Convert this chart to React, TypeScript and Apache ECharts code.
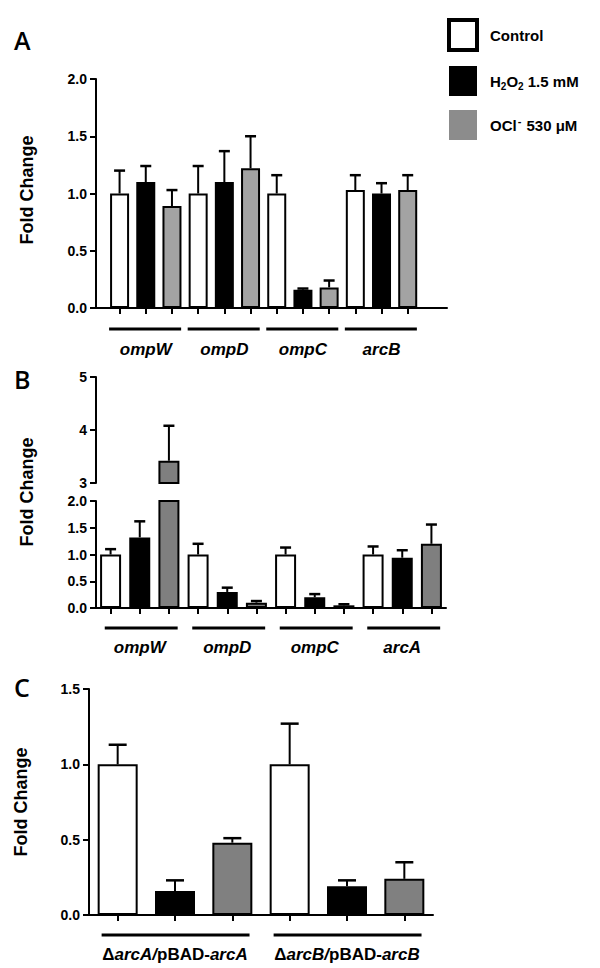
import React, { useEffect, useRef } from "react";
import * as echarts from "echarts";

// ---------- data ----------
const seriesNames = ["Control", "H2O2", "OCl"];

// Panel A
const genesA = ["ompW", "ompD", "ompC", "arcB"];
const controlA = [1.0, 1.0, 1.0, 1.03];
const controlErrA = [0.2, 0.24, 0.16, 0.13];
const h2o2A = [1.1, 1.1, 0.16, 1.0];
const h2o2ErrA = [0.14, 0.27, 0.01, 0.09];
const oclA = [0.89, 1.22, 0.18, 1.03];
const oclErrA = [0.14, 0.28, 0.06, 0.13];

// Panel B
const genesB = ["ompW", "ompD", "ompC", "arcA"];
const controlB = [1.0, 1.0, 1.0, 1.0];
const controlErrB = [0.1, 0.2, 0.13, 0.15];
const h2o2B = [1.32, 0.3, 0.2, 0.94];
const h2o2ErrB = [0.3, 0.08, 0.06, 0.14];
const oclB = [3.42, 0.1, 0.05, 1.2];
const oclErrB = [0.66, 0.03, 0.02, 0.36];

// Panel C
const strainsC = ["ΔarcA/pBAD-arcA", "ΔarcB/pBAD-arcB"];
const controlC = [1.0, 1.0];
const controlErrC = [0.13, 0.27];
const h2o2C = [0.16, 0.19];
const h2o2ErrC = [0.07, 0.04];
const oclC = [0.48, 0.24];
const oclErrC = [0.03, 0.11];

// ticks
const yTicksA = [0, 0.5, 1.0, 1.5, 2.0];
const yTicksBUpper = [3, 4, 5];
const yTicksBLower = [0, 0.5, 1.0, 1.5, 2.0];
const yTicksC = [0, 0.5, 1.0, 1.5];

const FONT = "'Liberation Sans', Arial, sans-serif";

function pos(g: number, k: number) {
  return g * 3 + k + 1;
}

function barData(vals: number[], k: number) {
  return vals.map((v, g) => [pos(g, k), v]);
}

function errData(groups: number[][], errs: number[][]) {
  const out: number[][] = [];
  groups.forEach((vals, k) => {
    vals.forEach((v, g) => out.push([pos(g, k), v, errs[k][g]]));
  });
  return out;
}

function makeErrRender(capHalf: number) {
  return (params: any, api: any) => {
    const x = api.value(0);
    const m = api.value(1);
    const e = api.value(2);
    const p0 = api.coord([x, m]);
    const p1 = api.coord([x, m + e]);
    const cs = params.coordSys;
    if (p0[1] < cs.y - 1 || p1[1] > cs.y + cs.height + 1) return null;
    return {
      type: "group",
      children: [
        {
          type: "line",
          shape: { x1: p0[0], y1: p0[1], x2: p1[0], y2: p1[1] },
          style: { stroke: "#000", lineWidth: 2 },
        },
        {
          type: "line",
          shape: { x1: p1[0] - capHalf, y1: p1[1], x2: p1[0] + capHalf, y2: p1[1] },
          style: { stroke: "#000", lineWidth: 2.5 },
        },
      ],
    };
  };
}

function makeUnderlineRender(offset: number) {
  return (params: any, api: any) => {
    const a = api.coord([api.value(0), api.value(2)]);
    const b = api.coord([api.value(1), api.value(2)]);
    return {
      type: "line",
      shape: { x1: a[0], y1: a[1] + offset, x2: b[0], y2: b[1] + offset },
      style: { stroke: "#000", lineWidth: 3 },
    };
  };
}

function underlineData(n: number, padL: number, padR: number, yMin: number) {
  const out: number[][] = [];
  for (let g = 0; g < n; g++) out.push([pos(g, 0) - padL, pos(g, 2) + padR, yMin]);
  return out;
}

const axisLineStyle = { show: true, lineStyle: { color: "#000", width: 2 } };
const yLabel = {
  color: "#000",
  fontWeight: "bold" as const,
  fontSize: 14,
  fontFamily: FONT,
  margin: 9,
};

function yAxisCfg(grid: number, min: number, max: number, interval: number, dec: number) {
  return {
    type: "value",
    gridIndex: grid,
    min,
    max,
    interval,
    axisLine: { ...axisLineStyle, onZero: false },
    axisTick: { show: true, length: 6, lineStyle: { color: "#000", width: 2 } },
    axisLabel: { ...yLabel, formatter: (v: number) => v.toFixed(dec) },
    splitLine: { show: false },
  };
}

const italicRich = {
  i: { fontStyle: "italic", fontWeight: "bold", fontSize: 17, fontFamily: FONT, color: "#000" },
  n: { fontStyle: "normal", fontWeight: "bold", fontSize: 17, fontFamily: FONT, color: "#000" },
};

function xAxisCfg(
  grid: number,
  min: number,
  max: number,
  n: number,
  labels: string[],
  margin: number,
  formatter: (s: string) => string
) {
  const tickVals: number[] = [];
  for (let i = 1; i <= n * 3; i++) tickVals.push(i);
  const labelVals = labels.map((_, g) => pos(g, 1));
  return {
    type: "value",
    gridIndex: grid,
    min,
    max,
    axisLine: { ...axisLineStyle, onZero: false },
    axisTick: {
      show: true,
      customValues: tickVals,
      length: 6,
      lineStyle: { color: "#000", width: 2 },
    },
    axisLabel: {
      show: true,
      customValues: labelVals,
      margin,
      formatter: (v: number) => formatter(labels[Math.round((v - 2) / 3)] || ""),
      rich: italicRich,
    },
    splitLine: { show: false },
  };
}

const geneFmt = (s: string) => `{i|${s}}`;
const strainFmt = (s: string) => {
  const m = s.match(/^Δ(\w+)\/pBAD-(\w+)$/);
  if (!m) return s;
  return `{n|Δ}{i|${m[1]}/}{n|pBAD-}{i|${m[2]}}`;
};

function bars(
  name: string,
  xi: number,
  data: number[][],
  color: string,
  width: number
) {
  return {
    type: "bar",
    name,
    xAxisIndex: xi,
    yAxisIndex: xi,
    data,
    barWidth: width,
    barGap: "-100%",
    clip: true,
    z: 2,
    itemStyle: { color, borderColor: "#000", borderWidth: 2 },
  };
}

export default function App() {
  const ref = useRef<HTMLDivElement>(null);
  useEffect(() => {
    if (!ref.current) return;
    const chart = echarts.init(ref.current, null, { renderer: "svg" });

    const grayA = "#a3a3a3";
    const grayB = "#7f7f7f";
    const grayC = "#808080";

    const option: any = {
      animation: false,
      backgroundColor: "#fff",
      grid: [
        { left: 96, top: 79, width: 351, height: 229 },
        { left: 96, top: 377, width: 350, height: 106 },
        { left: 96, top: 501, width: 350, height: 107 },
        { left: 89, top: 689, width: 344, height: 226 },
      ],
      xAxis: [
        xAxisCfg(0, 0.1, 13.5, genesA.length, genesA, 33, geneFmt),
        { type: "value", gridIndex: 1, min: 0.5, max: 12.5, show: false },
        xAxisCfg(2, 0.5, 12.5, genesB.length, genesB, 31, geneFmt),
        xAxisCfg(3, 0.5, 6.5, strainsC.length, strainsC, 31, strainFmt),
      ],
      yAxis: [
        yAxisCfg(0, yTicksA[0], yTicksA[yTicksA.length - 1], 0.5, 1),
        yAxisCfg(1, yTicksBUpper[0], yTicksBUpper[yTicksBUpper.length - 1], 1, 0),
        yAxisCfg(2, yTicksBLower[0], yTicksBLower[yTicksBLower.length - 1], 0.5, 1),
        yAxisCfg(3, yTicksC[0], yTicksC[yTicksC.length - 1], 0.5, 1),
      ],
      legend: {
        orient: "vertical",
        left: 442,
        top: 13,
        itemWidth: 28,
        itemHeight: 30,
        itemGap: 14,
        selectedMode: false,
        icon: "rect",
        data: [
          { name: "Control", itemStyle: { color: "#fff", borderColor: "#000", borderWidth: 4 } },
          { name: "H2O2", itemStyle: { color: "#000", borderColor: "#000", borderWidth: 0 } },
          { name: "OCl", itemStyle: { color: "#8c8c8c", borderColor: "#8c8c8c", borderWidth: 0 } },
        ],
        formatter: (name: string) => {
          if (name === "H2O2") return "{b|H}{sub|2}{b|O}{sub|2}{b| 1.5 mM}";
          if (name === "OCl") return "{b|OCl}{sup|-}{b| 530 μM}";
          return "{b|Control}";
        },
        textStyle: {
          padding: [0, 0, 0, 8],
          rich: {
            b: { fontWeight: "bold", fontSize: 15, fontFamily: FONT, color: "#000", lineHeight: 20 },
            sub: {
              fontWeight: "bold",
              fontSize: 10,
              fontFamily: FONT,
              color: "#000",
              lineHeight: 14,
              verticalAlign: "bottom",
            },
            sup: {
              fontWeight: "bold",
              fontSize: 11,
              fontFamily: FONT,
              color: "#000",
              lineHeight: 14,
              verticalAlign: "top",
              padding: [0, 1, 0, 1],
            },
          },
        },
      },
      graphic: [
        { type: "text", left: 14, top: 27, style: { text: "A", font: "600 25px 'Open Sans', sans-serif", fill: "#000" } },
        { type: "text", left: 14, top: 366, style: { text: "B", font: "600 25px 'Open Sans', sans-serif", fill: "#000" } },
        { type: "text", left: 14, top: 674, style: { text: "C", font: "600 25px 'Open Sans', sans-serif", fill: "#000" } },
        {
          type: "text",
          x: 27,
          y: 190,
          rotation: Math.PI / 2,
          style: {
            text: "Fold Change",
            font: `bold 18px ${FONT}`,
            fill: "#000",
            textAlign: "center",
            textVerticalAlign: "middle",
          },
        },
        {
          type: "text",
          x: 27,
          y: 492,
          rotation: Math.PI / 2,
          style: {
            text: "Fold Change",
            font: `bold 18px ${FONT}`,
            fill: "#000",
            textAlign: "center",
            textVerticalAlign: "middle",
          },
        },
        {
          type: "text",
          x: 21,
          y: 802,
          rotation: Math.PI / 2,
          style: {
            text: "Fold Change",
            font: `bold 18px ${FONT}`,
            fill: "#000",
            textAlign: "center",
            textVerticalAlign: "middle",
          },
        },
      ],
      series: [
        // Panel A
        bars("Control", 0, barData(controlA, 0), "#fff", 19),
        bars("H2O2", 0, barData(h2o2A, 1), "#000", 19),
        bars("OCl", 0, barData(oclA, 2), grayA, 19),
        {
          type: "custom",
          xAxisIndex: 0,
          yAxisIndex: 0,
          z: 5,
          renderItem: makeErrRender(5.5),
          data: errData([controlA, h2o2A, oclA], [controlErrA, h2o2ErrA, oclErrA]),
        },
        {
          type: "custom",
          xAxisIndex: 0,
          yAxisIndex: 0,
          renderItem: makeUnderlineRender(21),
          data: underlineData(genesA.length, 0.4, 0.35, yTicksA[0]),
        },
        // Panel B upper
        bars("Control", 1, barData(controlB, 0), "#fff", 21),
        bars("H2O2", 1, barData(h2o2B, 1), "#000", 21),
        bars("OCl", 1, barData(oclB, 2), grayB, 21),
        {
          type: "custom",
          xAxisIndex: 1,
          yAxisIndex: 1,
          z: 5,
          renderItem: makeErrRender(5.5),
          data: errData([controlB, h2o2B, oclB], [controlErrB, h2o2ErrB, oclErrB]),
        },
        // Panel B lower
        bars("Control", 2, barData(controlB, 0), "#fff", 21),
        bars("H2O2", 2, barData(h2o2B, 1), "#000", 21),
        bars("OCl", 2, barData(oclB, 2), grayB, 21),
        {
          type: "custom",
          xAxisIndex: 2,
          yAxisIndex: 2,
          z: 5,
          renderItem: makeErrRender(5.5),
          data: errData([controlB, h2o2B, oclB], [controlErrB, h2o2ErrB, oclErrB]),
        },
        {
          type: "custom",
          xAxisIndex: 2,
          yAxisIndex: 2,
          renderItem: makeUnderlineRender(20),
          data: underlineData(genesB.length, 0.2, 0.3, yTicksBLower[0]),
        },
        // Panel C
        bars("Control", 3, barData(controlC, 0), "#fff", 40),
        bars("H2O2", 3, barData(h2o2C, 1), "#000", 40),
        bars("OCl", 3, barData(oclC, 2), grayC, 40),
        {
          type: "custom",
          xAxisIndex: 3,
          yAxisIndex: 3,
          z: 5,
          renderItem: makeErrRender(9),
          data: errData([controlC, h2o2C, oclC], [controlErrC, h2o2ErrC, oclErrC]),
        },
        {
          type: "custom",
          xAxisIndex: 3,
          yAxisIndex: 3,
          renderItem: makeUnderlineRender(20),
          data: underlineData(strainsC.length, 0.28, 0.3, yTicksC[0]),
        },
      ],
    };

    chart.setOption(option);
    return () => chart.dispose();
  }, []);

  return (
    <div
      ref={ref}
      style={{ position: "absolute", left: 0, top: 0, width: 600, height: 968 }}
    />
  );
}
